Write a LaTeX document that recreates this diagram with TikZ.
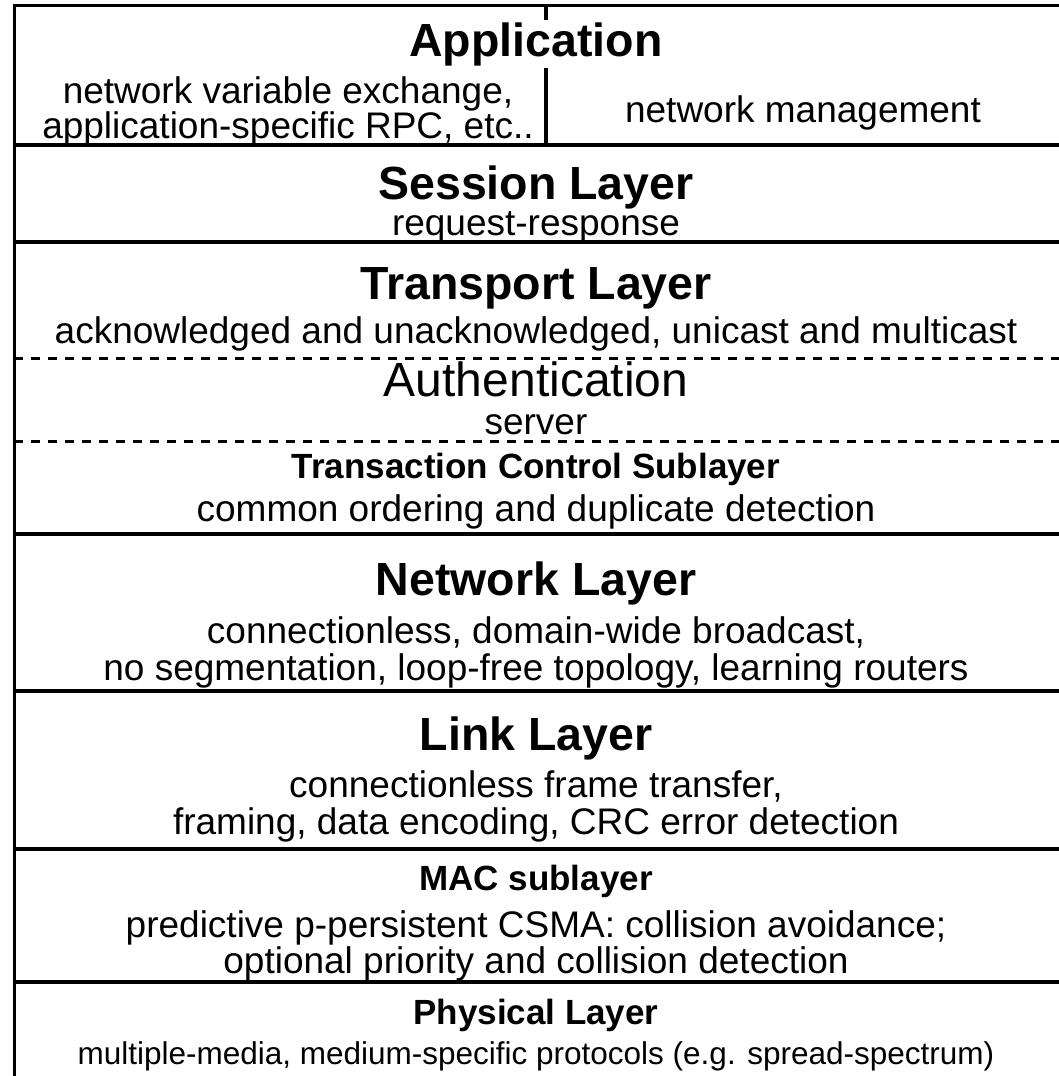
\documentclass[tikz,border=0pt]{standalone}
\usepackage{fontspec}
\setmainfont{Liberation Sans}
\begin{document}
\begin{tikzpicture}[x=1bp,y=-1bp,
  heading/.style={font=\fontsize{46.5bp}{50bp}\selectfont\bfseries, inner sep=0pt, anchor=base},
  subheading/.style={font=\fontsize{35bp}{38bp}\selectfont\bfseries, inner sep=0pt, anchor=base},
  plain/.style={font=\fontsize{37bp}{37bp}\selectfont, inner sep=0pt, anchor=base, align=center},
  small/.style={font=\fontsize{31.5bp}{34bp}\selectfont, inner sep=0pt, anchor=base},
  layerline/.style={line width=4.5bp},
  subline/.style={line width=3bp, dash pattern=on 9bp off 8bp},
  frame/.style={line width=3bp}]
\useasboundingbox (0,0) rectangle (1059,1076);

% outer frame: top edge and left edge
\coordinate (tl) at (14,5.5);
\coordinate (tr) at (1059,5.5);
\coordinate (bl) at (14,1076);
\draw[frame] (tr) -- (tl) -- (bl);

% divider between the two application columns
\coordinate (divtop) at (546,5);
\coordinate (divbot) at (546,145);
\draw[line width=4bp] (divtop) -- (divbot);

% layer boundaries
\foreach \yy/\nm in {145/a, 242/b, 534/c, 691/d, 849/e, 982/f}{
  \coordinate (l\nm) at (14,\yy);
  \coordinate (r\nm) at (1059,\yy);
  \draw[layerline] (l\nm) -- (r\nm);
}
% sublayer boundaries inside the transport layer
\foreach \yy/\nm in {358/g, 441/h}{
  \coordinate (l\nm) at (14,\yy);
  \coordinate (r\nm) at (1059,\yy);
  \draw[subline] (l\nm) -- (r\nm);
}

% Application
\node[heading, fill=white, inner xsep=3bp, inner ysep=2bp] (app) at (536,56) {Application};
\node[plain] (appl1) at (288,103) {network variable exchange,};
\node[plain] (appl2) at (288,138) {application-specific RPC, etc..};
\node[plain] (appr) at (803,122) {network management};

% Session
\node[heading] (ses) at (536,199) {Session Layer};
\node[plain] (sesd) at (536,235) {request-response};

% Transport
\node[heading] (tra) at (536,299) {Transport Layer};
\node[plain] (trad) at (536,343) {acknowledged and unacknowledged, unicast and multicast};

% Authentication
\node[font=\fontsize{48bp}{50bp}\selectfont, inner sep=0pt, anchor=base] (aut) at (536,396) {Authentication};
\node[plain] (autd) at (536,434) {server};

% Transaction control
\node[subheading] (tcs) at (536,478) {Transaction Control Sublayer};
\node[plain] (tcsd) at (536,521) {common ordering and duplicate detection};

% Network
\node[heading] (net) at (536,595) {Network Layer};
\node[plain] (netd1) at (536,643) {connectionless, domain-wide broadcast,};
\node[plain] (netd2) at (536,680) {no segmentation, loop-free topology, learning routers};

% Link
\node[heading] (lnk) at (536,750) {Link Layer};
\node[plain] (lnkd1) at (536,797) {connectionless frame transfer,};
\node[plain] (lnkd2) at (536,834) {framing, data encoding, CRC error detection};

% MAC
\node[subheading] (mac) at (536,890) {MAC sublayer};
\node[plain] (macd1) at (536,937) {predictive p-persistent CSMA: collision avoidance;};
\node[plain] (macd2) at (536,973) {optional priority and collision detection};

% Physical
\node[subheading] (phy) at (536,1024) {Physical Layer};
\node[small] (phyd) at (536,1064) {multiple-media, medium-specific protocols (e.g. spread-spectrum)};
\end{tikzpicture}
\end{document}
